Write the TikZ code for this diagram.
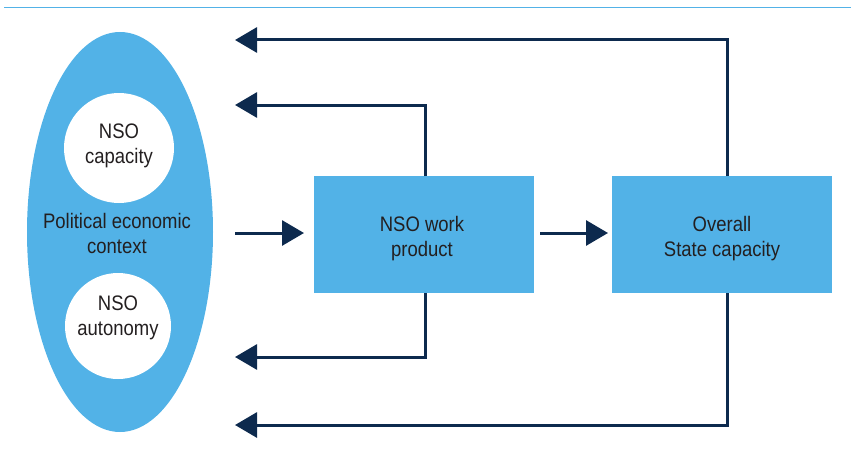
\documentclass[tikz,border=0pt]{standalone}
\usepackage{fontspec}
\setmainfont{Liberation Sans}[FakeStretch=0.88]
\usetikzlibrary{arrows.meta}
\definecolor{fillblue}{HTML}{52B2E7}
\definecolor{navy}{HTML}{0D2A4E}
\definecolor{textgray}{HTML}{231F20}
\begin{document}
\begin{tikzpicture}[x=1pt,y=-1pt,
  lbl/.style={font=\fontsize{21}{25}\selectfont, text=textgray, align=center, inner sep=0pt},
  box/.style={fill=fillblue, draw=none, inner sep=0pt},
  conn/.style={navy, line width=3pt, -{Triangle[length=22pt,width=25pt]}}]
\useasboundingbox (0,0) rectangle (851,452);
\draw[fillblue, line width=1.4pt] (4,7.3) -- (851,7.3);
% ellipse and circles
\fill[fillblue] (120,232) ellipse [x radius=93, y radius=200];
\node[fill=white, circle, minimum size=110pt, inner sep=0pt] (cap) at (119,148) {};
\node[fill=white, circle, minimum size=106pt, inner sep=0pt] (aut) at (118,326) {};
\node[lbl] at (119,146) {NSO\\capacity};
\node[lbl] at (118,318) {NSO\\autonomy};
\node[lbl] (pec) at (117,233) {Political economic\\context};
% boxes
\node[box, minimum width=220pt, minimum height=117pt] (work) at (424,234.5) {};
\node[lbl] at (422,239) {NSO work\\product};
\node[box, minimum width=220pt, minimum height=117pt] (state) at (722,234.5) {};
\node[lbl] at (722,239) {Overall\\State capacity};
% connector anchor points
\coordinate (inL) at (235,233);
\coordinate (t1) at (235,40);
\coordinate (t2) at (235,105);
\coordinate (b1) at (235,357);
\coordinate (b2) at (235,425);
\coordinate (wt) at (425,176);
\coordinate (wb) at (425,293);
\coordinate (st) at (727,176);
\coordinate (sb) at (727,293);
\coordinate (mid) at (540,233);
\draw[conn] (inL) -- (304,233);
\draw[conn] (mid) -- (608,233);
\draw[conn] (st) |- (t1);
\draw[conn] (wt) |- (t2);
\draw[conn] (wb) |- (b1);
\draw[conn] (sb) |- (b2);
\end{tikzpicture}
\end{document}
